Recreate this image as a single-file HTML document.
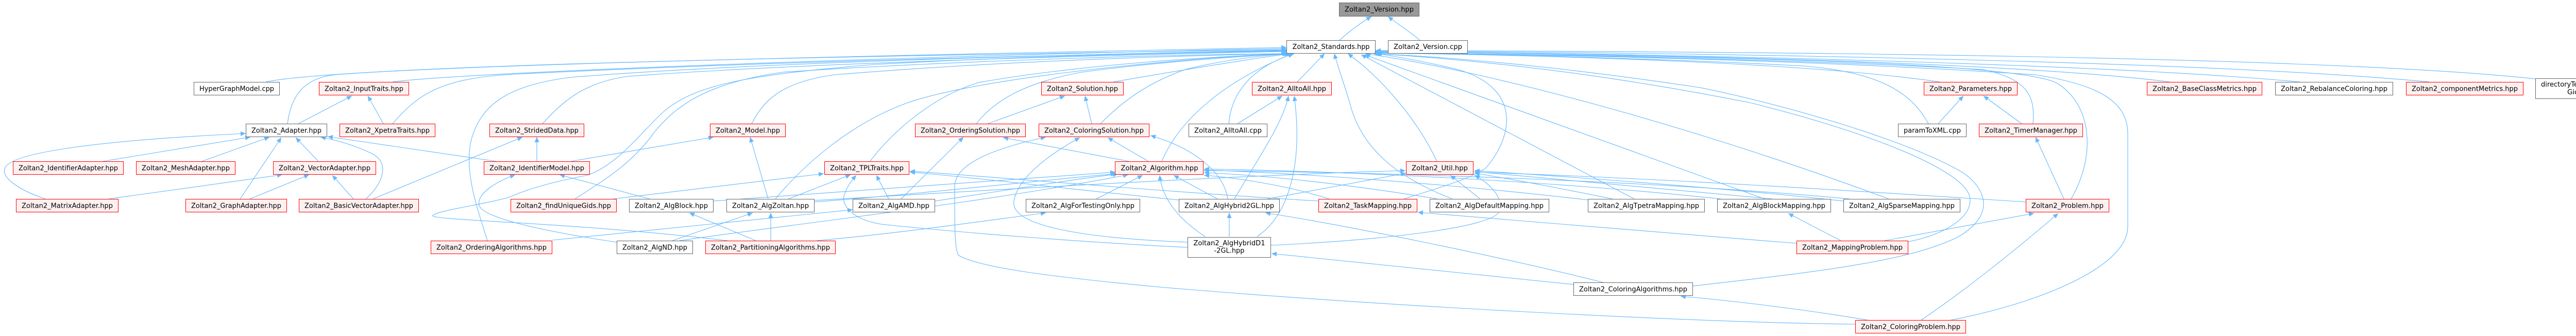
<!DOCTYPE html>
<html><head><meta charset="utf-8"><style>
html,body{margin:0;padding:0;background:#fff;overflow:hidden;width:5110px;height:652px;}
svg{display:block;}
.e{fill:none;stroke:#63b8ff;stroke-width:1.1;marker-end:url(#ah);}
.g{fill:#fff;stroke:#666;stroke-width:1;}
.r{fill:#fff0f0;stroke:#ff0000;stroke-width:1;}
.root{fill:#999;stroke:#666;stroke-width:1;}
text{font-family:"DejaVu Sans","Liberation Sans",sans-serif;font-size:13px;fill:#000;text-anchor:middle;}
</style></head><body>
<svg width="5110" height="652" viewBox="0 0 5110 652" xmlns="http://www.w3.org/2000/svg">
<defs><marker id="ah" markerUnits="userSpaceOnUse" markerWidth="11" markerHeight="10" refX="10" refY="4.5" orient="auto"><path d="M0,0 L10,4.5 L0,9 Z" fill="#63b8ff"/></marker></defs>
<rect width="5110" height="652" fill="#fff"/>
<g>
<path class="e" d="M2599,79 C2620,60 2640,45 2662,32"/>
<path class="e" d="M2757,79 C2740,64 2715,48 2694,32"/>
<path class="e" d="M516,159 C650,130 1500,112 2497,92"/>
<path class="e" d="M762,159 C900,140 1800,108 2497,94"/>
<path class="e" d="M558,240 C565,185 590,152 650,145 C1000,118 2000,104 2497,96"/>
<path class="e" d="M762,240 C810,185 850,155 980,145 C1500,118 2200,104 2497,98"/>
<path class="e" d="M1053,240 C1090,200 1130,160 1220,148 C1600,120 2200,106 2497,100"/>
<path class="e" d="M1459,240 C1480,200 1510,160 1620,145 C1950,118 2300,108 2499,104"/>
<path class="e" d="M1116,386 C1180,345 1220,320 1260,270 C1310,200 1380,160 1520,140 C1900,115 2300,106 2500,104"/>
<path class="e" d="M946,467 C925,400 900,330 915,270 C935,200 990,165 1108,150 C1500,118 2200,104 2497,97"/>
<path class="e" d="M1412,467 C1100,430 830,428 840,418 C850,408 950,395 990,382 C1040,360 1100,348 1140,340 C1200,320 1250,250 1290,215 C1350,165 1450,145 1700,125 C2000,108 2300,102 2497,99"/>
<path class="e" d="M1689,313 C1720,270 1800,190 1900,160 C2100,125 2350,110 2502,104"/>
<path class="e" d="M1505,386 C1560,320 1650,240 1760,200 C1900,150 2300,112 2500,104"/>
<path class="e" d="M1895,240 C1930,195 1990,160 2100,140 C2250,120 2400,110 2504,104"/>
<path class="e" d="M2136,240 C2180,195 2230,160 2300,135 C2380,115 2450,108 2507,104"/>
<path class="e" d="M2161,159 C2300,135 2420,115 2506,104"/>
<path class="e" d="M2385,240 C2390,180 2430,130 2512,104"/>
<path class="e" d="M2518,159 L2571,104"/>
<path class="e" d="M2255,313 C2290,230 2380,155 2510,104"/>
<path class="e" d="M2789,313 C2750,230 2680,150 2616,104"/>
<path class="e" d="M2819,386 C2700,340 2640,280 2620,200 C2605,150 2595,125 2590,104"/>
<path class="e" d="M3172,386 L2642,106"/>
<path class="e" d="M2725,386 C2800,362 2860,345 2885,325 C2940,260 2950,170 2830,135 C2760,118 2700,108 2672,104"/>
<path class="e" d="M3425,386 L2648,106"/>
<path class="e" d="M3666,386 C3300,250 2900,140 2650,104"/>
<path class="e" d="M3765,159 C3500,120 3000,108 2670,102"/>
<path class="e" d="M3743,240 C3710,180 3650,140 3500,128 C3200,112 2900,106 2670,103"/>
<path class="e" d="M3946,240 C3950,190 3940,155 3850,135 C3500,115 3000,106 2670,102"/>
<path class="e" d="M4020,386 C4070,300 4060,200 3990,160 C3900,120 3300,108 2670,103"/>
<path class="e" d="M3787,621 C3950,590 4130,520 4130,440 L4130,260 C4130,200 4080,165 3950,145 C3500,115 3000,106 2670,103"/>
<path class="e" d="M3704,469 C3800,450 3850,400 3810,360 C3760,310 3600,250 3400,200 C3100,140 2850,115 2668,104"/>
<path class="e" d="M3286,555 C3500,530 3700,510 3800,460 C3870,420 3860,370 3810,335 C3700,270 3450,200 3300,170 C3000,125 2800,110 2666,104"/>
<path class="e" d="M4212,159 C3900,120 3200,105 2670,101"/>
<path class="e" d="M4464,159 C4100,125 3300,105 2670,100"/>
<path class="e" d="M4716,159 C4300,120 3400,103 2670,99"/>
<path class="e" d="M4921,153 C4500,108 3400,100 2670,98"/>
<path class="e" d="M579,240 L683,186"/>
<path class="e" d="M744,240 L714,186"/>
<path class="e" d="M200,313 L486,266"/>
<path class="e" d="M392,313 L523,266"/>
<path class="e" d="M466,386 L546,267"/>
<path class="e" d="M618,313 L574,267"/>
<path class="e" d="M88,386 C40,370 0,345 10,325 C25,295 200,272 477,259"/>
<path class="e" d="M710,386 C740,360 760,318 722,298 C690,283 655,272 622,266"/>
<path class="e" d="M963,313 L636,265"/>
<path class="e" d="M211,386 L548,339"/>
<path class="e" d="M485,386 L600,339"/>
<path class="e" d="M686,386 L645,340"/>
<path class="e" d="M724,386 L1014,266"/>
<path class="e" d="M1042,313 L1042,266"/>
<path class="e" d="M1108,313 L1385,266"/>
<path class="e" d="M1491,386 L1456,266"/>
<path class="e" d="M1261,386 L1086,339"/>
<path class="e" d="M1197,470 C1050,448 935,422 930,398 C925,375 965,352 1000,339"/>
<path class="e" d="M1190,386 L1599,337"/>
<path class="e" d="M1530,386 L1651,339"/>
<path class="e" d="M1385,390 C1700,365 2000,348 2165,334"/>
<path class="e" d="M1581,392 C1800,375 2000,352 2166,337"/>
<path class="e" d="M1305,467 L1461,413"/>
<path class="e" d="M1319,467 C1500,440 1900,395 2190,339"/>
<path class="e" d="M1467,467 L1338,413"/>
<path class="e" d="M1496,467 L1496,413"/>
<path class="e" d="M1585,467 C1750,452 1900,430 2030,413"/>
<path class="e" d="M2305,480 C2100,470 1850,450 1710,435 C1650,425 1630,395 1640,375 C1645,360 1655,348 1662,340"/>
<path class="e" d="M1072,466 L1655,407"/>
<path class="e" d="M1725,386 L1701,340"/>
<path class="e" d="M1749,386 L1870,266"/>
<path class="e" d="M1815,390 C1950,370 2100,345 2170,338"/>
<path class="e" d="M1917,240 L2067,186"/>
<path class="e" d="M2119,240 L2106,186"/>
<path class="e" d="M2402,240 L2489,186"/>
<path class="e" d="M2191,313 L1947,267"/>
<path class="e" d="M2229,313 L2150,267"/>
<path class="e" d="M2128,386 L2218,340"/>
<path class="e" d="M2363,386 L2278,340"/>
<path class="e" d="M2383,386 C2375,330 2310,285 2233,263"/>
<path class="e" d="M2396,386 C2440,310 2490,240 2501,186"/>
<path class="e" d="M2339,459 C2280,420 2255,380 2251,340"/>
<path class="e" d="M2386,459 L2386,413"/>
<path class="e" d="M2440,459 C2500,420 2530,320 2512,186"/>
<path class="e" d="M2305,470 C2100,462 1960,438 1968,390 C1976,340 2050,292 2096,267"/>
<path class="e" d="M2288,388 C2100,370 1900,345 1766,334"/>
<path class="e" d="M2559,390 C2300,375 1950,345 1766,332"/>
<path class="e" d="M2467,476 C2700,465 2900,440 2910,410 C2920,380 2885,352 2862,340"/>
<path class="e" d="M3054,552 C2800,525 2600,505 2468,492"/>
<path class="e" d="M3112,548 C2900,495 2600,435 2456,413"/>
<path class="e" d="M2460,386 C2550,370 2650,350 2729,336"/>
<path class="e" d="M3601,629 C3300,626 2700,595 2250,557 C2050,538 1900,520 1860,495 C1852,480 1853,420 1853,360 C1855,320 1920,290 2030,266"/>
<path class="e" d="M3625,621 C3500,600 3350,582 3262,575"/>
<path class="e" d="M3729,621 C3820,560 3930,470 3995,414"/>
<path class="e" d="M3658,467 L3948,414"/>
<path class="e" d="M3573,467 L3471,414"/>
<path class="e" d="M3487,472 C3200,450 2900,425 2752,412"/>
<path class="e" d="M4006,386 L3951,266"/>
<path class="e" d="M3924,240 L3850,186"/>
<path class="e" d="M3762,240 L3811,186"/>
<path class="e" d="M2580,386 C2500,360 2400,345 2337,340"/>
<path class="e" d="M2790,386 C2600,355 2450,340 2337,335"/>
<path class="e" d="M3082,388 C2800,355 2500,335 2337,330"/>
<path class="e" d="M3340,386 C3000,350 2600,332 2337,328"/>
<path class="e" d="M3590,386 C3200,350 2700,335 2337,331"/>
<path class="e" d="M2873,386 L2815,340"/>
<path class="e" d="M3130,386 C3050,370 2950,350 2862,336"/>
<path class="e" d="M3440,386 C3200,365 3000,345 2862,333"/>
<path class="e" d="M3578,390 C3300,360 3000,340 2862,331"/>
<path class="e" d="M3932,392 C3600,370 3200,345 2862,334"/>
<path class="e" d="M1581,389 C1900,370 2400,340 2728,331"/>
</g>
<g>
<rect class="root" x="2599.5" y="5.5" width="155" height="26"/><text x="2677" y="22.5" textLength="134" lengthAdjust="spacingAndGlyphs">Zoltan2_Version.hpp</text>
<rect class="g" x="2497.5" y="78.5" width="172" height="25"/><text x="2583.5" y="95" textLength="150" lengthAdjust="spacingAndGlyphs">Zoltan2_Standards.hpp</text>
<rect class="g" x="2694.5" y="78.5" width="154" height="25"/><text x="2771.5" y="95" textLength="133" lengthAdjust="spacingAndGlyphs">Zoltan2_Version.cpp</text>

<rect class="g" x="376.5" y="159.5" width="166" height="25"/><text x="459.5" y="176.5" textLength="145" lengthAdjust="spacingAndGlyphs">HyperGraphModel.cpp</text>
<rect class="r" x="619.5" y="159.5" width="174" height="25"/><text x="706.5" y="176.5" textLength="153" lengthAdjust="spacingAndGlyphs">Zoltan2_InputTraits.hpp</text>
<rect class="r" x="2021.5" y="159.5" width="159" height="25"/><text x="2101" y="176.5" textLength="138" lengthAdjust="spacingAndGlyphs">Zoltan2_Solution.hpp</text>
<rect class="r" x="2430.5" y="159.5" width="154" height="25"/><text x="2507.5" y="176.5" textLength="133" lengthAdjust="spacingAndGlyphs">Zoltan2_AlltoAll.hpp</text>
<rect class="r" x="3734.5" y="159.5" width="181" height="25"/><text x="3825" y="176.5" textLength="160" lengthAdjust="spacingAndGlyphs">Zoltan2_Parameters.hpp</text>
<rect class="r" x="4167.5" y="159.5" width="223" height="25"/><text x="4279" y="176.5" textLength="202" lengthAdjust="spacingAndGlyphs">Zoltan2_BaseClassMetrics.hpp</text>
<rect class="g" x="4416.5" y="159.5" width="228" height="25"/><text x="4530.5" y="176.5" textLength="207" lengthAdjust="spacingAndGlyphs">Zoltan2_RebalanceColoring.hpp</text>
<rect class="r" x="4670.5" y="159.5" width="227" height="25"/><text x="4784" y="176.5" textLength="206" lengthAdjust="spacingAndGlyphs">Zoltan2_componentMetrics.hpp</text>
<rect class="g" x="4921.5" y="152.5" width="182" height="39"/><text x="5012.5" y="168" textLength="161" lengthAdjust="spacingAndGlyphs">directoryTest_findUnique</text><text x="5012.5" y="183" textLength="59" lengthAdjust="spacingAndGlyphs">Gids.cpp</text>

<rect class="g" x="477.5" y="240.5" width="157" height="25"/><text x="556" y="257.5" textLength="136" lengthAdjust="spacingAndGlyphs">Zoltan2_Adapter.hpp</text>
<rect class="r" x="659.5" y="240.5" width="185" height="25"/><text x="752" y="257.5" textLength="164" lengthAdjust="spacingAndGlyphs">Zoltan2_XpetraTraits.hpp</text>
<rect class="r" x="950.5" y="240.5" width="183" height="25"/><text x="1042" y="257.5" textLength="162" lengthAdjust="spacingAndGlyphs">Zoltan2_StridedData.hpp</text>
<rect class="r" x="1378.5" y="240.5" width="146" height="25"/><text x="1451.5" y="257.5" textLength="125" lengthAdjust="spacingAndGlyphs">Zoltan2_Model.hpp</text>
<rect class="r" x="1776.5" y="240.5" width="214" height="25"/><text x="1883.5" y="257.5" textLength="193" lengthAdjust="spacingAndGlyphs">Zoltan2_OrderingSolution.hpp</text>
<rect class="r" x="2016.5" y="240.5" width="214" height="25"/><text x="2123.5" y="257.5" textLength="193" lengthAdjust="spacingAndGlyphs">Zoltan2_ColoringSolution.hpp</text>
<rect class="g" x="2307.5" y="240.5" width="152" height="25"/><text x="2383.5" y="257.5" textLength="131" lengthAdjust="spacingAndGlyphs">Zoltan2_AlltoAll.cpp</text>
<rect class="g" x="3684.5" y="240.5" width="132" height="25"/><text x="3750.5" y="257.5" textLength="111" lengthAdjust="spacingAndGlyphs">paramToXML.cpp</text>
<rect class="r" x="3841.5" y="240.5" width="201" height="25"/><text x="3942" y="257.5" textLength="180" lengthAdjust="spacingAndGlyphs">Zoltan2_TimerManager.hpp</text>

<rect class="r" x="25.5" y="313.5" width="214" height="25"/><text x="132.5" y="330.5" textLength="193" lengthAdjust="spacingAndGlyphs">Zoltan2_IdentifierAdapter.hpp</text>
<rect class="r" x="264.5" y="313.5" width="192" height="25"/><text x="360.5" y="330.5" textLength="171" lengthAdjust="spacingAndGlyphs">Zoltan2_MeshAdapter.hpp</text>
<rect class="r" x="530.5" y="313.5" width="199" height="25"/><text x="630" y="330.5" textLength="178" lengthAdjust="spacingAndGlyphs">Zoltan2_VectorAdapter.hpp</text>
<rect class="r" x="939.5" y="313.5" width="205" height="25"/><text x="1042" y="330.5" textLength="184" lengthAdjust="spacingAndGlyphs">Zoltan2_IdentifierModel.hpp</text>
<rect class="r" x="1600.5" y="313.5" width="164" height="25"/><text x="1682.5" y="330.5" textLength="143" lengthAdjust="spacingAndGlyphs">Zoltan2_TPLTraits.hpp</text>
<rect class="r" x="2164.5" y="313.5" width="171" height="25"/><text x="2250.5" y="330.5" textLength="150" lengthAdjust="spacingAndGlyphs">Zoltan2_Algorithm.hpp</text>
<rect class="r" x="2729.5" y="313.5" width="130" height="25"/><text x="2794.5" y="330.5" textLength="109" lengthAdjust="spacingAndGlyphs">Zoltan2_Util.hpp</text>

<rect class="r" x="31.5" y="386.5" width="198" height="25"/><text x="130.5" y="403.5" textLength="177" lengthAdjust="spacingAndGlyphs">Zoltan2_MatrixAdapter.hpp</text>
<rect class="r" x="360.5" y="386.5" width="196" height="25"/><text x="458.5" y="403.5" textLength="175" lengthAdjust="spacingAndGlyphs">Zoltan2_GraphAdapter.hpp</text>
<rect class="r" x="580.5" y="386.5" width="232" height="25"/><text x="696.5" y="403.5" textLength="211" lengthAdjust="spacingAndGlyphs">Zoltan2_BasicVectorAdapter.hpp</text>
<rect class="r" x="991.5" y="386.5" width="205" height="25"/><text x="1094" y="403.5" textLength="184" lengthAdjust="spacingAndGlyphs">Zoltan2_findUniqueGids.hpp</text>
<rect class="g" x="1221.5" y="386.5" width="163" height="25"/><text x="1303" y="403.5" textLength="142" lengthAdjust="spacingAndGlyphs">Zoltan2_AlgBlock.hpp</text>
<rect class="g" x="1410.5" y="386.5" width="170" height="25"/><text x="1495.5" y="403.5" textLength="149" lengthAdjust="spacingAndGlyphs">Zoltan2_AlgZoltan.hpp</text>
<rect class="g" x="1655.5" y="386.5" width="159" height="25"/><text x="1735" y="403.5" textLength="138" lengthAdjust="spacingAndGlyphs">Zoltan2_AlgAMD.hpp</text>
<rect class="g" x="1991.5" y="386.5" width="221" height="25"/><text x="2102" y="403.5" textLength="200" lengthAdjust="spacingAndGlyphs">Zoltan2_AlgForTestingOnly.hpp</text>
<rect class="g" x="2288.5" y="386.5" width="195" height="25"/><text x="2386" y="403.5" textLength="174" lengthAdjust="spacingAndGlyphs">Zoltan2_AlgHybrid2GL.hpp</text>
<rect class="r" x="2559.5" y="386.5" width="191" height="25"/><text x="2655" y="403.5" textLength="170" lengthAdjust="spacingAndGlyphs">Zoltan2_TaskMapping.hpp</text>
<rect class="g" x="2775.5" y="386.5" width="231" height="25"/><text x="2891" y="403.5" textLength="210" lengthAdjust="spacingAndGlyphs">Zoltan2_AlgDefaultMapping.hpp</text>
<rect class="g" x="3082.5" y="386.5" width="226" height="25"/><text x="3195.5" y="403.5" textLength="205" lengthAdjust="spacingAndGlyphs">Zoltan2_AlgTpetraMapping.hpp</text>
<rect class="g" x="3333.5" y="386.5" width="220" height="25"/><text x="3443.5" y="403.5" textLength="199" lengthAdjust="spacingAndGlyphs">Zoltan2_AlgBlockMapping.hpp</text>
<rect class="g" x="3578.5" y="386.5" width="226" height="25"/><text x="3691.5" y="403.5" textLength="205" lengthAdjust="spacingAndGlyphs">Zoltan2_AlgSparseMapping.hpp</text>
<rect class="r" x="3932.5" y="386.5" width="161" height="25"/><text x="4013" y="403.5" textLength="140" lengthAdjust="spacingAndGlyphs">Zoltan2_Problem.hpp</text>

<rect class="r" x="836.5" y="467.5" width="235" height="25"/><text x="954" y="484.5" textLength="214" lengthAdjust="spacingAndGlyphs">Zoltan2_OrderingAlgorithms.hpp</text>
<rect class="g" x="1197.5" y="467.5" width="147" height="25"/><text x="1271" y="484.5" textLength="126" lengthAdjust="spacingAndGlyphs">Zoltan2_AlgND.hpp</text>
<rect class="r" x="1369.5" y="467.5" width="252" height="25"/><text x="1495.5" y="484.5" textLength="231" lengthAdjust="spacingAndGlyphs">Zoltan2_PartitioningAlgorithms.hpp</text>
<rect class="g" x="2305.5" y="460.5" width="161" height="39"/><text x="2386" y="476" textLength="139" lengthAdjust="spacingAndGlyphs">Zoltan2_AlgHybridD1</text><text x="2386" y="490.5" textLength="59" lengthAdjust="spacingAndGlyphs">-2GL.hpp</text>
<rect class="r" x="3487.5" y="467.5" width="216" height="25"/><text x="3595.5" y="484.5" textLength="195" lengthAdjust="spacingAndGlyphs">Zoltan2_MappingProblem.hpp</text>

<rect class="g" x="3054.5" y="548.5" width="231" height="25"/><text x="3170" y="565.5" textLength="210" lengthAdjust="spacingAndGlyphs">Zoltan2_ColoringAlgorithms.hpp</text>

<rect class="r" x="3601.5" y="621.5" width="214" height="25"/><text x="3708.5" y="638.5" textLength="193" lengthAdjust="spacingAndGlyphs">Zoltan2_ColoringProblem.hpp</text>
</g>
</svg>
</body></html>
